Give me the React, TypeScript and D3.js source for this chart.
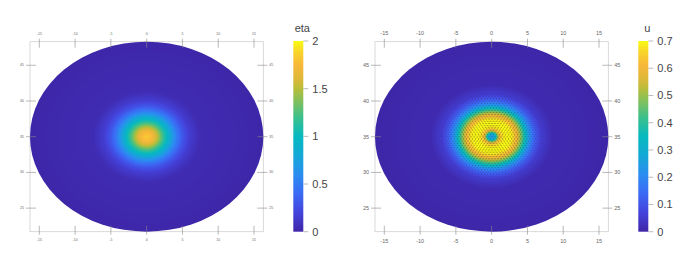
import React from "react";
import * as d3 from "d3";

// Colormap (parula-like)
const cmapT = [0, 0.1, 0.2, 0.3, 0.4, 0.5, 0.6, 0.7, 0.75, 0.8, 0.875, 0.95, 1];
const cmapC = ["#3e26a8", "#4443dc", "#3b6af5", "#2a8df0", "#14a8d6", "#06b9bf", "#3cc08c", "#8ec054", "#b8be3a", "#dcb838", "#f8b83a", "#f8d828", "#f9fb14"];

// Axes
const xTicks = [-15, -10, -5, 0, 5, 10, 15];
const yTicks = [25, 30, 35, 40, 45];
const xDomain = [-16.3, 16.3];
const yDomain = [21.7, 48.3];
const center = [0, 35];

// eta radial profile (radius in x-units)
const etaR = [0, 0.8, 1.5, 2.2, 2.8, 3.5, 4.2, 5, 6, 7.5, 16.3];
const etaV = [1.84, 1.74, 1.52, 1.22, 1.0, 0.74, 0.5, 0.3, 0.15, 0.04, 0];
const etaTicks = [0, 0.5, 1, 1.5, 2];

// u radial profile
const uR = [0, 0.5, 0.9, 1.3, 2.0, 2.8, 3.4, 4.0, 4.6, 5.2, 6.0, 7.0, 8.5, 16.3];
const uV = [0.22, 0.3, 0.52, 0.66, 0.7, 0.69, 0.62, 0.5, 0.37, 0.23, 0.12, 0.05, 0.01, 0];
const uTicks = [0, 0.1, 0.2, 0.3, 0.4, 0.5, 0.6, 0.7];

const FONT = "Liberation Sans, Arial, sans-serif";
const SQUISH = 0.85;

function Panel({ left, vmax, profR, profV, id, cbX, title, ticks, glyphs, labelSize }: any) {
  const x = d3.scaleLinear().domain(xDomain).range([left, left + 233.3]);
  const y = d3.scaleLinear().domain(yDomain).range([231.7, 41.7]);
  const cmap = d3.scaleLinear<string>().domain(cmapT.map((t) => t * vmax)).range(cmapC).clamp(true);
  const prof = d3.scaleLinear().domain(profR).range(profV).clamp(true);
  const cx = x(center[0]);
  const cy = y(center[1]);
  const rx = x(xDomain[1]) - cx;
  const ry = cy - y(yDomain[1]);
  const Rmax = profR[profR.length - 1];
  const Rpx = x(Rmax) - cx;
  const nStops = 120;
  const stops = d3.range(nStops + 1).map((i) => {
    const r = (i / nStops) ** 1.6 * Rmax;
    return { off: r / Rmax, c: cmap(prof(r)) };
  });
  const cb = d3.scaleLinear().domain([0, vmax]).range([231.7, 41]);
  const x0 = x.range()[0], x1 = x.range()[1];
  const y0 = y.range()[1], y1 = y.range()[0];
  const tickColor = "#8a8a8a";

  const glyphEls: any[] = [];
  if (glyphs) {
    const step = 0.42;
    const rows = Math.ceil(7.5 / (step * 0.866));
    for (let j = -rows; j <= rows; j++) {
      const gy = j * step * 0.866;
      const offs = (j & 1) * step * 0.5;
      for (let gx = -7.5 + offs; gx <= 7.5; gx += step) {
        const r = Math.hypot(gx, gy);
        if (r > 7.2) continue;
        const u = prof(r);
        const px = x(gx);
        const py = cy - (y(center[1] + gy) - cy) * -SQUISH * -1;
        const a = Math.atan2(gy, gx);
        const len = 0.4 + (u / 0.7) * 1.9;
        const tx = -Math.sin(a), ty = -Math.cos(a) * SQUISH;
        glyphEls.push(
          <line key={`${j}-${gx.toFixed(2)}`} x1={px - tx * len * 0.5} y1={py - ty * len * 0.5} x2={px + tx * len * 0.5} y2={py + ty * len * 0.5}
            stroke="#1a1a1a" strokeOpacity={0.5} strokeWidth={0.7} />
        );
      }
    }
  }

  return (
    <g>
      <defs>
        <radialGradient id={`rg-${id}`} gradientUnits="userSpaceOnUse" cx={cx} cy={cy} r={Rpx}
          gradientTransform={`translate(${cx},${cy}) scale(1,${SQUISH}) translate(${-cx},${-cy})`}>
          {stops.map((s, i) => <stop key={i} offset={s.off} stopColor={s.c} />)}
        </radialGradient>
        <linearGradient id={`cb-${id}`} x1="0" y1="1" x2="0" y2="0">
          {cmapT.map((t, i) => <stop key={i} offset={t} stopColor={cmapC[i]} />)}
        </linearGradient>
      </defs>
      <rect x={x0} y={y0} width={x1 - x0} height={y1 - y0} fill="none" stroke="#cfcfcf" strokeWidth={0.8} />
      <ellipse cx={cx} cy={cy} rx={rx} ry={ry} fill={`url(#rg-${id})`} />
      {glyphEls}
      {xTicks.map((t) => (
        <g key={`xt${t}`}>
          <line x1={x(t)} x2={x(t)} y1={y0 - 3} y2={y0 + 6} stroke={tickColor} strokeWidth={0.6} />
          <line x1={x(t)} x2={x(t)} y1={y1 - 6} y2={y1 + 3} stroke={tickColor} strokeWidth={0.6} />
          <text x={x(t)} y={y0 - 7} fontSize={labelSize} fill="#666" textAnchor="middle" fontFamily={FONT}>{t}</text>
          <text x={x(t)} y={y1 + 7} fontSize={labelSize} fill="#666" textAnchor="middle" dominantBaseline="hanging" fontFamily={FONT}>{t}</text>
        </g>
      ))}
      {yTicks.map((t) => (
        <g key={`yt${t}`}>
          <line x1={x0 - 4} x2={x0 + 6} y1={y(t)} y2={y(t)} stroke={tickColor} strokeWidth={0.6} />
          <line x1={x1 - 6} x2={x1 + 4} y1={y(t)} y2={y(t)} stroke={tickColor} strokeWidth={0.6} />
          <text x={x0 - 6} y={y(t)} fontSize={labelSize} fill="#666" textAnchor="end" dominantBaseline="central" fontFamily={FONT}>{t}</text>
          <text x={x1 + 6} y={y(t)} fontSize={labelSize} fill="#666" textAnchor="start" dominantBaseline="central" fontFamily={FONT}>{t}</text>
        </g>
      ))}
      <rect x={cbX} y={41} width={10} height={190.7} fill={`url(#cb-${id})`} />
      {ticks.map((t: number) => (
        <g key={`cb${t}`}>
          <line x1={cbX + 10} x2={cbX + 15} y1={cb(t)} y2={cb(t)} stroke="#aaa" strokeWidth={0.8} />
          <text x={cbX + 19} y={cb(t)} fontSize={11} fill="#444" dominantBaseline="central" fontFamily={FONT}>{t}</text>
        </g>
      ))}
      <text x={cbX + 9} y={32} fontSize={11} fill="#444" textAnchor="middle" fontFamily={FONT}>{title}</text>
    </g>
  );
}

export default function App() {
  return (
    <svg width={690} height={272} style={{ position: "absolute", left: 0, top: 0, background: "#fff" }}>
      <rect width={690} height={272} fill="#fff" />
      <Panel left={30} vmax={2} profR={etaR} profV={etaV} id="eta" cbX={293.3} title="eta" ticks={etaTicks} glyphs={false} labelSize={3.5} />
      <Panel left={375} vmax={0.7} profR={uR} profV={uV} id="u" cbX={638.3} title="u" ticks={uTicks} glyphs={true} labelSize={5.5} />
    </svg>
  );
}
